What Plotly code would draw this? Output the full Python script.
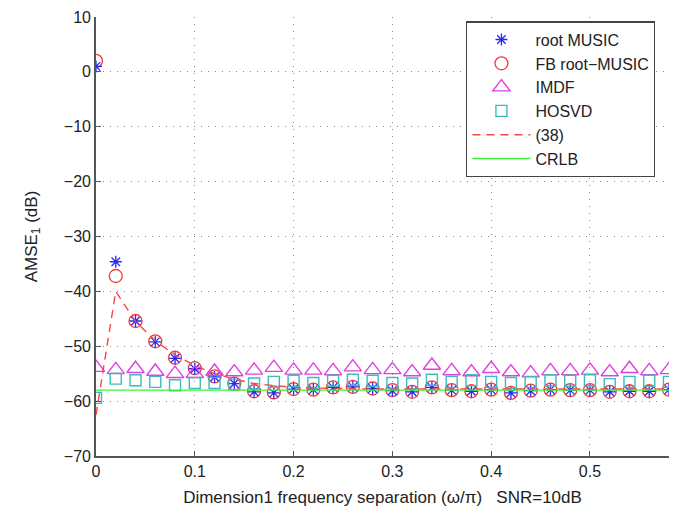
import plotly.graph_objects as go

# Frequency separation (omega/pi)
separation = [0.00, 0.02, 0.04, 0.06, 0.08, 0.10, 0.12, 0.14, 0.16, 0.18,
              0.20, 0.22, 0.24, 0.26, 0.28, 0.30, 0.32, 0.34, 0.36, 0.38,
              0.40, 0.42, 0.44, 0.46, 0.48, 0.50, 0.52, 0.54, 0.56, 0.58]

# AMSE_1 in dB for each estimator
root_music = [1.0, -34.6, -45.4, -49.2, -52.2, -54.1, -55.6, -56.8, -58.3, -58.5,
              -57.8, -57.9, -57.5, -57.4, -57.7, -58.1, -58.3, -57.5, -58.0, -58.2,
              -57.9, -58.5, -58.1, -57.9, -58.0, -58.0, -58.3, -58.2, -58.2, -57.9]
fb_root_music = [2.0, -37.2, -45.4, -49.1, -52.1, -54.0, -55.5, -56.8, -58.2, -58.4,
                 -57.8, -57.9, -57.5, -57.4, -57.7, -58.0, -58.3, -57.5, -58.0, -58.2,
                 -57.9, -58.5, -58.1, -57.9, -58.0, -58.0, -58.3, -58.2, -58.2, -57.9]
imdf = [-53.9, -54.3, -54.1, -54.6, -55.0, -55.0, -54.6, -54.7, -54.4, -53.9,
        -54.4, -54.4, -54.5, -53.8, -54.3, -54.3, -54.7, -53.5, -54.5, -54.7,
        -54.1, -54.7, -54.9, -54.5, -54.5, -54.4, -54.7, -54.1, -54.5, -54.3]
hosvd = [-59.4, -55.9, -56.2, -56.5, -57.1, -56.7, -56.7, -57.0, -56.8, -56.5,
         -56.3, -56.7, -56.3, -56.1, -56.3, -56.7, -56.8, -56.1, -56.5, -56.2,
         -56.5, -56.7, -56.5, -56.2, -56.3, -56.2, -56.9, -56.5, -56.3, -56.5]
eq38 = [-62.5, -40.0, -45.5, -49.0, -51.6, -53.5, -55.0, -56.0, -56.8, -57.2,
        -57.5, -57.6, -57.7, -57.7, -57.8, -57.8, -57.8, -57.8, -57.8, -57.8,
        -57.8, -57.8, -57.8, -57.8, -57.8, -57.8, -57.8, -57.8, -57.8, -57.8]
crlb = [-58.0] * len(separation)

x_ticks = [0, 0.1, 0.2, 0.3, 0.4, 0.5]
x_tick_text = ["0", "0.1", "0.2", "0.3", "0.4", "0.5"]
y_ticks = [10, 0, -10, -20, -30, -40, -50, -60, -70]
y_tick_text = ["10", "0", "\u221210", "\u221220", "\u221230", "\u221240", "\u221250", "\u221260", "\u221270"]

FONT = "Liberation Sans, Arial, sans-serif"

fig = go.Figure()
fig.add_trace(go.Scatter(x=separation, y=fb_root_music, mode="markers", name="FB root\u2212MUSIC",
                         marker=dict(symbol="circle-open", size=13, color="#f03c3c", line=dict(width=1.3)),
                         legendrank=2))
fig.add_trace(go.Scatter(x=separation, y=root_music, mode="markers", name="root MUSIC",
                         marker=dict(symbol="asterisk-open", size=10, color="#2a2af0", line=dict(width=1.3)),
                         legendrank=1))
fig.add_trace(go.Scatter(x=separation, y=imdf, mode="markers", name="IMDF",
                         marker=dict(symbol="triangle-up-open", size=15, color="#e040e0", line=dict(width=1.4)),
                         legendrank=3))
fig.add_trace(go.Scatter(x=separation, y=hosvd, mode="markers", name="HOSVD",
                         marker=dict(symbol="square-open", size=11, color="#3cbcbc", line=dict(width=1.4)),
                         legendrank=4))
fig.add_trace(go.Scatter(x=separation, y=eq38, mode="lines", name="(38)",
                         line=dict(color="#f04848", width=1.4, dash="8px,6px"),
                         legendrank=5))
fig.add_trace(go.Scatter(x=separation, y=crlb, mode="lines", name="CRLB",
                         line=dict(color="#3cf03c", width=1.4),
                         legendrank=6))

axis_common = dict(
    showline=True, linecolor="#555555", linewidth=1.6, mirror=False,
    showgrid=True, gridcolor="#8a8a8a", griddash="1px,6px", gridwidth=1.3,
    zeroline=False, ticks="inside", ticklen=5, tickcolor="#555555",
    tickfont=dict(family=FONT, size=16, color="#222222"),
)

fig.update_layout(
    width=678, height=513,
    margin=dict(l=96, r=9, t=10, b=55),
    paper_bgcolor="white", plot_bgcolor="white",
    font=dict(family=FONT, size=17, color="#222222"),
    xaxis=dict(range=[0, 0.58], tickvals=x_ticks, ticktext=x_tick_text,
               title=dict(text="Dimension1 frequency separation (\u03c9/\u03c0)   SNR=10dB",
                          font=dict(size=17), standoff=12),
               **axis_common),
    yaxis=dict(range=[-70, 10], tickvals=y_ticks, ticktext=y_tick_text,
               title=dict(text="AMSE<sub>1</sub> (dB)", font=dict(size=17), standoff=22),
               **axis_common),
    legend=dict(x=0.976, y=0.99, xanchor="right", yanchor="top",
                bgcolor="white", bordercolor="#444444", borderwidth=1.2,
                font=dict(size=16), tracegroupgap=0, itemwidth=58),
    showlegend=True,
)

fig.write_html("out.html")
